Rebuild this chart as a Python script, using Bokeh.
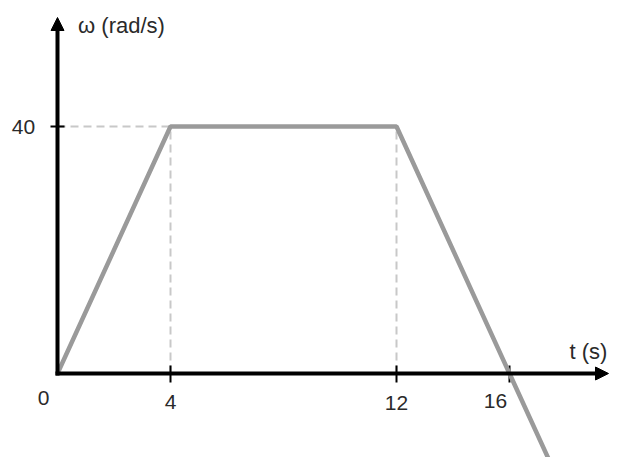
from bokeh.plotting import figure
from bokeh.models import Range1d, Arrow, NormalHead
from bokeh.core.properties import value
from bokeh.embed import file_html
from bokeh.resources import INLINE

# data
t_vals = [0, 4, 12, 16, 18]
w_vals = [0, 40, 40, 0, -20]
xtick_vals = [0, 4, 12, 16]
xtick_labels = ["0", "4", "12", "16"]
ytick_vals = [40]
ytick_labels = ["40"]
x_axis_label = "t (s)"
y_axis_label = "ω (rad/s)"

# pixel geometry: origin at (57, 373); 28.25 px per s, 6.175 px per rad/s
px_x = 28.25
px_y = 6.175
OX, OY = 57, 373
W, H = 610, 457
x0 = -OX / px_x
x1 = x0 + W / px_x
y1 = OY / px_y
y0 = y1 - H / px_y

def dx(px):
    return (px - OX) / px_x

def dy(py):
    return (OY - py) / px_y

p = figure(width=W, height=H, output_backend="svg", toolbar_location=None,
           x_range=Range1d(x0, x1), y_range=Range1d(y0, y1), min_border=0)
p.axis.visible = False
p.grid.visible = False
p.outline_line_color = None
p.background_fill_color = "white"
p.border_fill_color = "white"

FONT = value("Liberation Sans")
dash_col = "#c8c8c8"

# dashed guides
p.segment(x0=[0], y0=[w_vals[1]], x1=[t_vals[1]], y1=[w_vals[1]],
          line_color=dash_col, line_width=2, line_dash="8 5")
p.segment(x0=[t_vals[1], t_vals[2]], y0=[0, 0], x1=[t_vals[1], t_vals[2]], y1=[w_vals[1], w_vals[2]],
          line_color=dash_col, line_width=2, line_dash="8 5")

# axes with arrows
p.add_layout(Arrow(x_start=0, y_start=dy(375), x_end=0, y_end=dy(17),
                   line_color="black", line_width=4,
                   end=NormalHead(size=13, fill_color="black", line_color="black", line_width=1)))
p.add_layout(Arrow(x_start=dx(55), y_start=0, x_end=dx(608), y_end=0,
                   line_color="black", line_width=4,
                   end=NormalHead(size=13, fill_color="black", line_color="black", line_width=1)))

# ticks
tick_x = xtick_vals[1:]
p.segment(x0=tick_x, y0=[dy(382)] * len(tick_x), x1=tick_x, y1=[dy(365)] * len(tick_x),
          line_color="black", line_width=2)
p.segment(x0=[dx(50)], y0=ytick_vals, x1=[dx(64)], y1=ytick_vals,
          line_color="black", line_width=2)

# data line
p.line(t_vals, w_vals, line_color="#9a9a9a", line_width=4.5)

# tick labels
xl_x = [dx(43), xtick_vals[1], xtick_vals[2], dx(495)]
xl_y = [397, 401, 402, 400]
for xv, lab, yy in zip(xl_x, xtick_labels, xl_y):
    p.text(x=[xv], y=[dy(yy)], text=[lab], text_align="center", text_baseline="middle",
           text_font=FONT, text_font_size="21px", text_color="#2a2a2a")
p.text(x=[dx(23)], y=ytick_vals, text=ytick_labels, text_align="center", text_baseline="middle",
       text_font=FONT, text_font_size="21px", text_color="#2a2a2a")

# axis labels
p.text(x=[dx(588)], y=[dy(351)], text=[x_axis_label], text_align="center",
       text_baseline="middle", text_font=FONT, text_font_size="22px", text_color="#2a2a2a")
p.text(x=[dx(121)], y=[dy(25)], text=[y_axis_label], text_align="center",
       text_baseline="middle", text_font=FONT, text_font_size="22px", text_color="#2a2a2a")

open("out.html", "w").write(file_html(p, INLINE))
